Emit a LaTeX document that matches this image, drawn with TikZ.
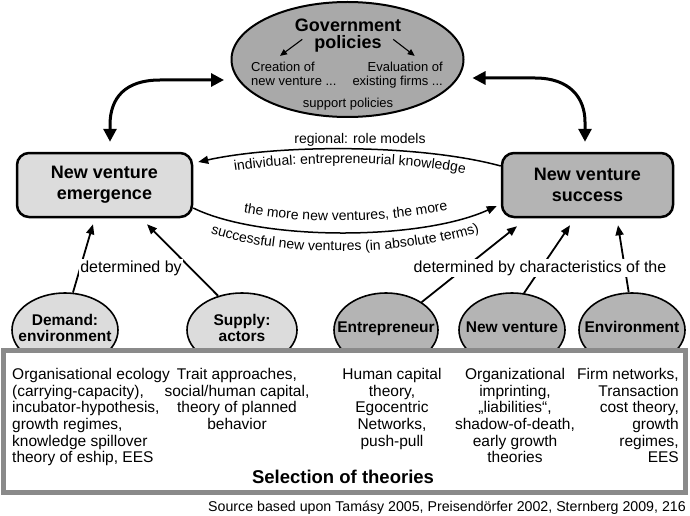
\documentclass[tikz,border=0pt]{standalone}
\usepackage{fontspec}
\setmainfont{Liberation Sans}
\usetikzlibrary{arrows.meta,shapes.geometric,decorations.text,calc}
\definecolor{lightfill}{HTML}{DCDCDC}
\definecolor{midfill}{HTML}{B4B4B4}
\definecolor{govfill}{HTML}{A9A9A9}
\definecolor{framegray}{HTML}{8A8A8A}
\newcommand{\fsz}[2]{\fontsize{#1}{#2}\selectfont}
\begin{document}
\begin{tikzpicture}[x=1pt,y=-1pt,
  bigbox/.style={draw, line width=2.5pt, rounded corners=12pt, minimum height=64pt, inner sep=0pt, align=center, font=\fsz{18}{21}\bfseries},
  lowell/.style={ellipse, draw, line width=1.6pt, minimum width=106pt, minimum height=74pt, inner sep=0pt},
  elltext/.style={font=\fsz{15.5}{16}\bfseries, align=center, inner sep=0pt},
  theory/.style={font=\fsz{15.5}{16.7}, inner sep=0pt},
  small/.style={font=\fsz{13}{14}, inner sep=0pt},
  dbl/.style={{Triangle[length=13pt,width=13pt]}-{Triangle[length=13pt,width=13pt]}, line width=3pt},
  uparrow/.style={-{Triangle[length=10pt,width=8pt]}, line width=1.8pt},
  conn/.style={-{Triangle[length=10pt,width=8pt]}, line width=1.5pt},
  smallarr/.style={-{Triangle[length=7pt,width=6pt]}, line width=1.1pt},
  lbl/.style={fill=white, inner sep=1.5pt, font=\fsz{16}{18}},
]
\useasboundingbox (0,0) rectangle (690,516);

% government ellipse
\node[ellipse, draw, line width=2pt, fill=govfill, minimum width=232pt, minimum height=115pt, inner sep=0pt] (gov) at (347.5,59.5) {};
\node[font=\fsz{18}{18}\bfseries, anchor=base, inner sep=0pt] (govA) at (348,32) {Government};
\node[font=\fsz{18}{18}\bfseries, anchor=base, inner sep=0pt] (govB) at (348,49) {policies};
\node[small, anchor=base west] (cre1) at (251,72) {Creation of};
\node[small, anchor=base west] (cre2) at (251,86) {new venture ...};
\node[small, anchor=base east] (eva1) at (443,72) {Evaluation of};
\node[small, anchor=base east] (eva2) at (443,86) {existing firms ...};
\node[small, anchor=base] (suppol) at (348,107) {support policies};
\draw[smallarr] ($(govB.west)+(-12,-5)$) -- ($(cre1.north)+(-3,-6.5)$);
\draw[smallarr] ($(govB.east)+(11.5,-5)$) -- ($(eva1.north)+(9.5,-6.5)$);

% main boxes
\node[bigbox, fill=lightfill, minimum width=175pt] (nve) at (104.5,185) {New venture\\emergence};
\node[bigbox, fill=midfill, minimum width=171pt] (nvs) at (587.5,185) {New venture\\success};

% double arrows
\draw[dbl] ($(gov.west)+(-6.5,20.5)$) -- (160,80) .. controls (125,80) and (110,98) .. (110,125) -- ($(nve.north)+(5.5,-10)$);
\draw[dbl] ($(gov.east)+(8,18.5)$) -- (535,78) .. controls (570,78) and (585,98) .. (585,122) -- ($(nvs.north)+(-2.5,-10)$);

% connectors between boxes
\draw[conn] ($(nvs.west)+(0,-19)$) .. controls (420,144) and (280,144) .. ($(nve.east)+(5,-23)$);
\draw[conn] ($(nve.east)+(0,23)$) .. controls (260,241) and (420,241) .. ($(nvs.west)+(-4,21)$);
\node[font=\fsz{14}{16}, inner sep=0pt] (reg) at (360,140) {regional: role models};
\path[decorate, decoration={text along path, text align=center, text={|\fsz{14}{16}|individual: entrepreneurial knowledge}}] (197,178) .. controls (280,158) and (420,158) .. (502,182);
\path[decorate, decoration={text along path, text align=center, text={|\fsz{14}{16}|the more new ventures, the more}}] (193,198) .. controls (260,229) and (420,229) .. (498,194);
\path[decorate, decoration={text along path, text align=center, text={|\fsz{14}{16}|successful new ventures (in absolute terms)}}] (188,225) .. controls (262,260) and (420,260) .. (502,223);

% lower ellipses
\node[lowell, fill=lightfill, minimum width=106pt] (dem) at (65,330) {};
\node[lowell, fill=lightfill, minimum width=110pt] (sply) at (242,330) {};
\node[lowell, fill=midfill, minimum width=104pt] (ent) at (386,330) {};
\node[lowell, fill=midfill, minimum width=106pt] (nvn) at (512,330) {};
\node[lowell, fill=midfill, minimum width=106pt] (env) at (632,330) {};

% arrows up
\draw[uparrow] (dem.78) -- ($(nve.south)+(-11.5,6)$);
\draw[uparrow] (sply.125) -- ($(nve.south)+(42.5,6)$);
\draw[uparrow] (ent.38) -- ($(nvs.south)+(-70.5,8)$);
\draw[uparrow] (nvn.72) -- ($(nvs.south)+(-17.5,7)$);
\draw[uparrow] (env.95) -- ($(nvs.south)+(30.5,7)$);
\node[lbl] (det1) at (131,268) {determined by};
\node[lbl] (det2) at (540,268) {determined by characteristics of the};

% theory box
\node[draw=framegray, line width=5pt, fill=white, minimum width=682pt, minimum height=142pt, inner sep=0pt] (sel) at (344.5,421) {};

\node[elltext] (demt) at (65,328) {Demand:\\environment};
\node[elltext] (sut) at (242,328) {Supply:\\actors};
\node[elltext, anchor=base] (entt) at (386,332) {Entrepreneur};
\node[elltext, anchor=base] (nvnt) at (512,332) {New venture};
\node[elltext, anchor=base] (envt) at (632,332) {Environment};

\node[theory, anchor=north west, align=left] (th1) at (12,368) {Organisational ecology\\(carrying-capacity),\\incubator-hypothesis,\\growth regimes,\\knowledge spillover\\theory of eship, EES};
\node[theory, anchor=north, align=center] (th2) at (237,368) {Trait approaches,\\social/human capital,\\theory of planned\\behavior};
\node[theory, anchor=north, align=center] (th3) at (392,368) {Human capital\\theory,\\Egocentric\\Networks,\\push-pull};
\node[theory, anchor=north, align=center] (th4) at (515,368) {Organizational\\imprinting,\\„liabilities“,\\shadow-of-death,\\early growth\\theories};
\node[theory, anchor=north east, align=right] (th5) at (679,368) {Firm networks,\\Transaction\\cost theory,\\growth\\regimes,\\EES};
\node[font=\fsz{18.5}{20}\bfseries, anchor=base, inner sep=0pt] (selt) at (343,483) {Selection of theories};
\node[font=\fsz{14.2}{15}, anchor=base east, inner sep=0pt] (src) at (686,511) {Source based upon Tamásy 2005, Preisendörfer 2002, Sternberg 2009, 216};
\end{tikzpicture}
\end{document}
